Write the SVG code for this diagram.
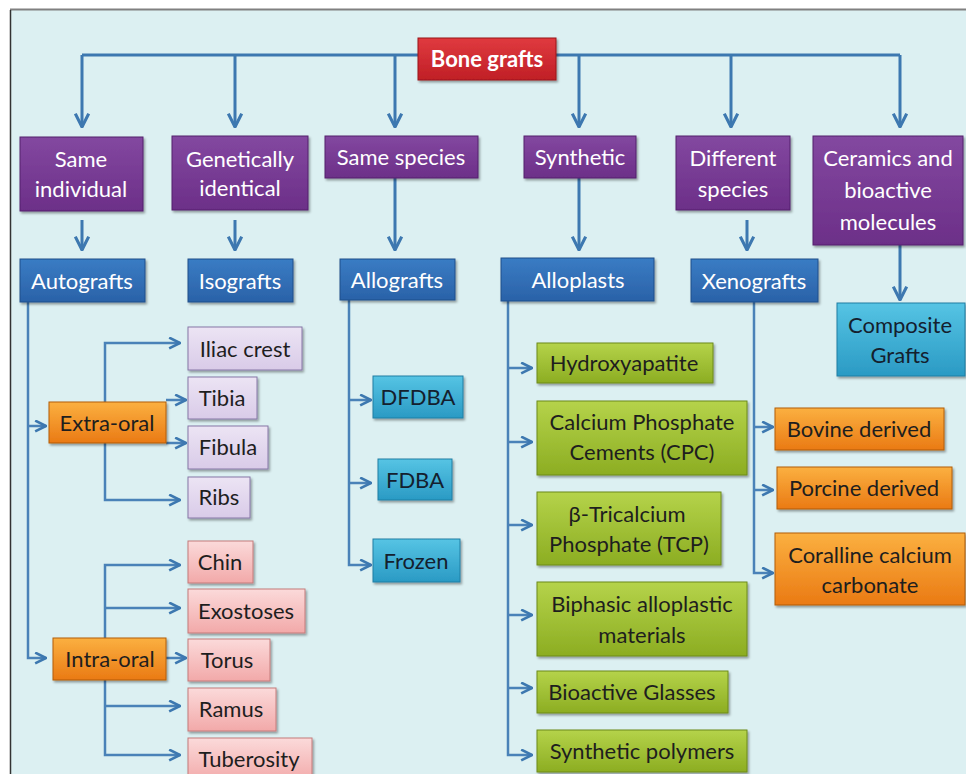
<svg xmlns="http://www.w3.org/2000/svg" width="966" height="774" viewBox="0 0 966 774">
<defs>
<linearGradient id="gRed" x1="0" y1="0" x2="0" y2="1"><stop offset="0" stop-color="#e03a3f"/><stop offset="1" stop-color="#c01f26"/></linearGradient>
<linearGradient id="gPur" x1="0" y1="0" x2="0" y2="1"><stop offset="0" stop-color="#8348a0"/><stop offset="1" stop-color="#6c2f88"/></linearGradient>
<linearGradient id="gBlu" x1="0" y1="0" x2="0" y2="1"><stop offset="0" stop-color="#3a7cc4"/><stop offset="1" stop-color="#2a62a8"/></linearGradient>
<linearGradient id="gLav" x1="0" y1="0" x2="0" y2="1"><stop offset="0" stop-color="#ece4f4"/><stop offset="1" stop-color="#d9cbe8"/></linearGradient>
<linearGradient id="gPnk" x1="0" y1="0" x2="0" y2="1"><stop offset="0" stop-color="#fbdada"/><stop offset="1" stop-color="#f2a9a9"/></linearGradient>
<linearGradient id="gOrg" x1="0" y1="0" x2="0" y2="1"><stop offset="0" stop-color="#fbb040"/><stop offset="1" stop-color="#ea7a14"/></linearGradient>
<linearGradient id="gGrn" x1="0" y1="0" x2="0" y2="1"><stop offset="0" stop-color="#b5d34a"/><stop offset="1" stop-color="#8cad22"/></linearGradient>
<linearGradient id="gCyn" x1="0" y1="0" x2="0" y2="1"><stop offset="0" stop-color="#56c4e4"/><stop offset="1" stop-color="#2a9ac4"/></linearGradient>
<filter id="sh" x="-10%" y="-10%" width="125%" height="130%"><feDropShadow dx="1.5" dy="2" stdDeviation="1.2" flood-color="#000" flood-opacity="0.35"/></filter>
<marker id="ar" viewBox="0 0 12 12" refX="11" refY="6" markerWidth="16" markerHeight="16" markerUnits="userSpaceOnUse" orient="auto"><path d="M1,1 L11,6 L1,11" fill="none" stroke="#3d78b0" stroke-width="2.3"/></marker>
<marker id="as" viewBox="0 0 12 12" refX="11" refY="6" markerWidth="13" markerHeight="13" markerUnits="userSpaceOnUse" orient="auto"><path d="M1,1 L11,6 L1,11" fill="none" stroke="#3d78b0" stroke-width="2.4"/></marker>
</defs>
<style>
text{font-family:Lato,"Liberation Sans",sans-serif;font-size:22px;text-anchor:middle}
.w{fill:#ffffff}
.d{fill:#1e1e1e}
.n{fill:#14202e}
.box{filter:url(#sh);stroke-width:1}
.red{fill:url(#gRed);stroke:#9a151b}
.pur{fill:url(#gPur);stroke:#55206c}
.blu{fill:url(#gBlu);stroke:#1f4f8a}
.lav{fill:url(#gLav);stroke:#8676a6}
.pnk{fill:url(#gPnk);stroke:#c47a7a}
.org{fill:url(#gOrg);stroke:#b35c0c}
.grn{fill:url(#gGrn);stroke:#6c8a1c}
.cyn{fill:url(#gCyn);stroke:#1f7ea4}
.c{fill:none;stroke:#3d78b0;stroke-width:3}
.c2{fill:none;stroke:#4a82b8;stroke-width:2.5}
</style>
<rect x="0" y="0" width="966" height="774" fill="#ffffff"/>
<rect x="10" y="10" width="956" height="764" fill="#dcf0f2"/>
<line x1="10" y1="9.5" x2="966" y2="9.5" stroke="#808080" stroke-width="2"/>
<line x1="10.5" y1="10" x2="10.5" y2="774" stroke="#333333" stroke-width="1.5"/>

<g id="connectors">
<path class="c" d="M82,55 H900"/>
<path class="c" d="M82,55 V127" marker-end="url(#ar)"/>
<path class="c" d="M235,55 V127" marker-end="url(#ar)"/>
<path class="c" d="M395,55 V127" marker-end="url(#ar)"/>
<path class="c" d="M579,55 V127" marker-end="url(#ar)"/>
<path class="c" d="M731,55 V127" marker-end="url(#ar)"/>
<path class="c" d="M900,55 V127" marker-end="url(#ar)"/>
<path class="c" d="M82,220 V250" marker-end="url(#ar)"/>
<path class="c" d="M235,220 V250" marker-end="url(#ar)"/>
<path class="c" d="M395,178 V250" marker-end="url(#ar)"/>
<path class="c" d="M579,178 V250" marker-end="url(#ar)"/>
<path class="c" d="M747,220 V250" marker-end="url(#ar)"/>
<path class="c" d="M900,245 V300" marker-end="url(#ar)"/>
<path class="c2" d="M28,302 V658 H46" marker-end="url(#as)"/>
<path class="c2" d="M28,426 H46" marker-end="url(#as)"/>
<path class="c2" d="M105,402 V343 H180" marker-end="url(#as)"/>
<path class="c2" d="M166,400 H186" marker-end="url(#as)"/>
<path class="c2" d="M166,443 H186" marker-end="url(#as)"/>
<path class="c2" d="M105,443 V500 H180" marker-end="url(#as)"/>
<path class="c2" d="M105,638 V565 H180" marker-end="url(#as)"/>
<path class="c2" d="M105,608 H180" marker-end="url(#as)"/>
<path class="c2" d="M166,658 H186" marker-end="url(#as)"/>
<path class="c2" d="M105,680 V755 H180" marker-end="url(#as)"/>
<path class="c2" d="M105,706 H180" marker-end="url(#as)"/>
<path class="c2" d="M349,300 V565 H371" marker-end="url(#as)"/>
<path class="c2" d="M349,400 H371" marker-end="url(#as)"/>
<path class="c2" d="M349,483 H371" marker-end="url(#as)"/>
<path class="c2" d="M508,301 V755 H532" marker-end="url(#as)"/>
<path class="c2" d="M508,368 H532" marker-end="url(#as)"/>
<path class="c2" d="M508,442 H532" marker-end="url(#as)"/>
<path class="c2" d="M508,525 H532" marker-end="url(#as)"/>
<path class="c2" d="M508,615 H532" marker-end="url(#as)"/>
<path class="c2" d="M508,688 H532" marker-end="url(#as)"/>
<path class="c2" d="M754,302 V573 H773" marker-end="url(#as)"/>
<path class="c2" d="M754,427 H773" marker-end="url(#as)"/>
<path class="c2" d="M754,490 H773" marker-end="url(#as)"/>
</g>

<g id="bone-grafts"><rect class="box red" x="418" y="38" width="138" height="42"/><text class="w" x="487" y="67" font-weight="bold">Bone grafts</text></g>

<g id="same-individual"><rect class="box pur" x="20" y="137" width="123" height="74"/><text class="w" x="81" y="167">Same</text><text class="w" x="81" y="197">individual</text></g>
<g id="genetically-identical"><rect class="box pur" x="172" y="136" width="136" height="74"/><text class="w" x="240" y="167">Genetically</text><text class="w" x="240" y="196">identical</text></g>
<g id="same-species"><rect class="box pur" x="325" y="136" width="153" height="42"/><text class="w" x="401" y="165">Same species</text></g>
<g id="synthetic"><rect class="box pur" x="524" y="136" width="112" height="42"/><text class="w" x="580" y="165">Synthetic</text></g>
<g id="different-species"><rect class="box pur" x="676" y="136" width="114" height="74"/><text class="w" x="733" y="166">Different</text><text class="w" x="733" y="197">species</text></g>
<g id="ceramics"><rect class="box pur" x="813" y="136" width="150" height="109"/><text class="w" x="888" y="166">Ceramics and</text><text class="w" x="888" y="198">bioactive</text><text class="w" x="888" y="230">molecules</text></g>

<g id="autografts"><rect class="box blu" x="20" y="259" width="125" height="43"/><text class="w" x="82" y="289">Autografts</text></g>
<g id="isografts"><rect class="box blu" x="188" y="259" width="105" height="43"/><text class="w" x="240" y="289">Isografts</text></g>
<g id="allografts"><rect class="box blu" x="340" y="259" width="115" height="41"/><text class="w" x="397" y="288">Allografts</text></g>
<g id="alloplasts"><rect class="box blu" x="501" y="258" width="153" height="43"/><text class="w" x="578" y="288">Alloplasts</text></g>
<g id="xenografts"><rect class="box blu" x="691" y="259" width="127" height="43"/><text class="w" x="754" y="289">Xenografts</text></g>
<g id="composite-grafts"><rect class="box cyn" x="837" y="303" width="128" height="73"/><text class="n" x="900" y="333">Composite</text><text class="n" x="900" y="363">Grafts</text></g>

<g id="extra-oral"><rect class="box org" x="49" y="402" width="117" height="41"/><text class="d" x="107" y="431">Extra-oral</text></g>
<g id="intra-oral"><rect class="box org" x="53" y="638" width="113" height="42"/><text class="d" x="110" y="667">Intra-oral</text></g>

<g id="iliac-crest"><rect class="box lav" x="188" y="327" width="114" height="43"/><text class="d" x="245" y="357">Iliac crest</text></g>
<g id="tibia"><rect class="box lav" x="188" y="377" width="69" height="42"/><text class="d" x="222" y="406">Tibia</text></g>
<g id="fibula"><rect class="box lav" x="188" y="426" width="80" height="43"/><text class="d" x="228" y="455">Fibula</text></g>
<g id="ribs"><rect class="box lav" x="188" y="477" width="62" height="41"/><text class="d" x="219" y="505">Ribs</text></g>

<g id="chin"><rect class="box pnk" x="188" y="541" width="65" height="42"/><text class="d" x="220" y="570">Chin</text></g>
<g id="exostoses"><rect class="box pnk" x="188" y="589" width="117" height="44"/><text class="d" x="246" y="619">Exostoses</text></g>
<g id="torus"><rect class="box pnk" x="188" y="639" width="82" height="42"/><text class="d" x="227" y="668">Torus</text></g>
<g id="ramus"><rect class="box pnk" x="188" y="688" width="88" height="43"/><text class="d" x="231" y="717">Ramus</text></g>
<g id="tuberosity"><rect class="box pnk" x="188" y="738" width="124" height="44"/><text class="d" x="249" y="767">Tuberosity</text></g>

<g id="dfdba"><rect class="box cyn" x="373" y="376" width="90" height="42"/><text class="n" x="418" y="405">DFDBA</text></g>
<g id="fdba"><rect class="box cyn" x="378" y="459" width="74" height="41"/><text class="n" x="415" y="488">FDBA</text></g>
<g id="frozen"><rect class="box cyn" x="373" y="539" width="87" height="43"/><text class="n" x="416" y="569">Frozen</text></g>

<g id="hydroxyapatite"><rect class="box grn" x="537" y="343" width="176" height="40"/><text class="d" x="624" y="371">Hydroxyapatite</text></g>
<g id="cpc"><rect class="box grn" x="537" y="401" width="210" height="74"/><text class="d" x="642" y="430">Calcium Phosphate</text><text class="d" x="642" y="460">Cements (CPC)</text></g>
<g id="tcp"><rect class="box grn" x="537" y="492" width="184" height="73"/><text class="d" x="627" y="522">β-Tricalcium</text><text class="d" x="629" y="552">Phosphate (TCP)</text></g>
<g id="biphasic"><rect class="box grn" x="537" y="582" width="210" height="74"/><text class="d" x="642" y="612">Biphasic alloplastic</text><text class="d" x="642" y="643">materials</text></g>
<g id="bioactive-glasses"><rect class="box grn" x="537" y="671" width="191" height="42"/><text class="d" x="632" y="700">Bioactive Glasses</text></g>
<g id="synthetic-polymers"><rect class="box grn" x="537" y="730" width="210" height="42"/><text class="d" x="642" y="759">Synthetic polymers</text></g>

<g id="bovine"><rect class="box org" x="775" y="408" width="169" height="42"/><text class="d" x="859" y="437">Bovine derived</text></g>
<g id="porcine"><rect class="box org" x="777" y="467" width="175" height="42"/><text class="d" x="864" y="496">Porcine derived</text></g>
<g id="coralline"><rect class="box org" x="775" y="533" width="190" height="72"/><text class="d" x="870" y="563">Coralline calcium</text><text class="d" x="870" y="593">carbonate</text></g>
</svg>
